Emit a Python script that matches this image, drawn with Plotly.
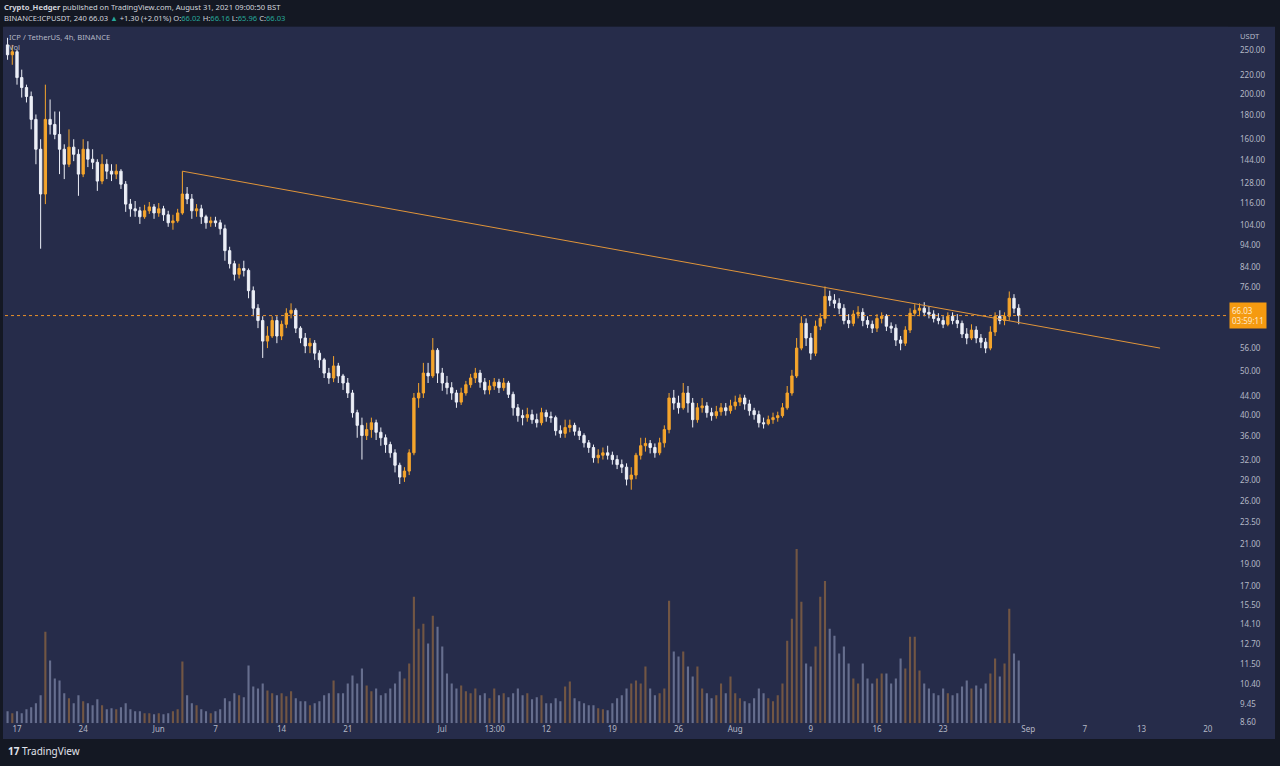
import math

import pandas as pd
import plotly.graph_objects as go

opens = [
    256.2, 243.8, 247.5, 217.5, 206.9, 197.8, 176.4, 151.9, 121.4, 176.4,
    172.0, 163.6, 151.9, 140.9, 153.5, 148.1, 134.1, 151.9, 144.5, 142.3,
    129.5, 140.9, 136.1, 134.1, 136.1, 127.5, 115.4, 112.7, 111.6, 108.3,
    111.6, 113.8, 110.4, 112.7, 109.4, 105.1, 106.1, 110.4, 121.4, 118.4,
    111.6, 112.7, 108.3, 105.1, 106.1, 105.1, 102.0, 91.4, 85.6, 81.2,
    83.6, 82.8, 74.8, 68.5, 64.4, 58.1, 59.6, 64.4, 59.6, 63.2,
    66.8, 67.8, 62.0, 59.0, 56.7, 57.5, 54.7, 52.9, 49.5, 48.3,
    51.3, 48.8, 47.1, 44.8, 40.6, 38.1, 36.2, 37.3, 38.6, 36.8,
    35.8, 34.6, 33.2, 31.2, 29.4, 30.3, 33.2, 43.7, 44.8, 49.5,
    48.8, 55.5, 49.5, 47.1, 46.0, 44.8, 42.8, 44.8, 46.7, 48.3,
    49.5, 47.3, 45.5, 46.4, 47.3, 46.0, 47.1, 44.5, 41.6, 40.0,
    39.6, 40.2, 39.2, 38.6, 40.6, 39.8, 39.6, 37.1, 36.6, 37.7,
    38.1, 37.0, 36.2, 34.9, 34.1, 32.4, 32.8, 33.2, 32.8, 32.1,
    31.3, 30.9, 29.1, 29.7, 32.8, 34.4, 34.8, 34.1, 33.2, 34.9,
    37.3, 43.7, 42.6, 41.6, 44.8, 42.6, 39.2, 41.6, 42.0, 40.6,
    40.0, 40.8, 41.6, 41.0, 42.0, 42.8, 43.7, 42.4, 41.0, 40.2,
    38.6, 38.4, 39.2, 39.6, 40.0, 41.6, 44.8, 48.8, 56.1, 63.5,
    59.0, 54.7, 62.6, 65.1, 72.7, 71.3, 70.2, 68.5, 64.4, 63.5,
    66.5, 67.1, 64.4, 63.2, 62.0, 65.1, 65.8, 62.6, 62.0, 58.4,
    57.5, 61.4, 66.8, 67.8, 68.5, 67.1, 66.5, 65.1, 64.4, 63.2,
    65.8, 64.4, 63.5, 60.2, 59.0, 61.4, 59.0, 57.8, 56.1, 60.8,
    65.8, 64.4, 65.8, 72.0, 68.5,
]
highs = [
    265.4, 256.2, 250.0, 226.3, 209.9, 202.8, 180.8, 159.7, 209.9, 194.9,
    183.5, 183.5, 155.7, 167.8, 159.7, 151.9, 159.7, 158.1, 151.9, 144.5,
    148.1, 144.5, 140.9, 140.9, 137.5, 129.5, 118.4, 117.2, 113.8, 115.0,
    116.6, 115.4, 116.0, 114.4, 111.6, 109.4, 112.7, 136.1, 125.7, 121.4,
    115.4, 115.0, 109.4, 108.3, 108.3, 106.7, 104.1, 93.2, 86.9, 85.6,
    86.9, 83.6, 76.4, 69.9, 65.8, 62.6, 65.8, 65.8, 64.4, 68.5,
    70.2, 68.5, 62.6, 60.5, 59.0, 58.4, 55.5, 53.4, 50.8, 53.9,
    52.1, 49.3, 48.3, 45.5, 41.2, 39.6, 38.6, 39.6, 39.2, 37.7,
    36.4, 35.1, 33.8, 31.6, 30.9, 33.8, 44.8, 47.1, 52.1, 52.1,
    59.0, 56.1, 50.8, 48.8, 47.3, 45.5, 46.0, 47.6, 49.3, 50.8,
    50.3, 48.3, 47.8, 48.3, 48.1, 48.3, 47.6, 45.1, 42.4, 41.2,
    41.6, 41.2, 40.4, 41.6, 41.2, 40.8, 40.0, 38.1, 39.2, 39.2,
    38.6, 37.7, 36.6, 35.4, 34.6, 33.8, 34.1, 34.4, 33.4, 32.8,
    32.1, 31.5, 30.9, 33.2, 35.8, 35.8, 35.4, 34.8, 35.8, 38.1,
    44.8, 45.5, 44.2, 47.1, 46.4, 43.7, 42.6, 43.7, 42.8, 41.6,
    42.0, 42.6, 42.6, 43.3, 44.2, 44.5, 44.4, 43.3, 41.6, 41.0,
    39.6, 40.0, 40.6, 40.8, 42.6, 46.4, 50.3, 59.0, 65.8, 65.1,
    60.5, 64.4, 66.8, 76.4, 74.8, 73.5, 72.0, 69.9, 66.5, 67.8,
    69.2, 68.5, 65.8, 64.4, 66.5, 67.1, 66.5, 63.8, 63.2, 59.6,
    62.6, 68.5, 69.9, 70.2, 70.6, 69.2, 67.8, 66.8, 65.8, 67.1,
    67.1, 66.5, 64.4, 62.0, 63.2, 62.6, 60.2, 59.0, 62.6, 67.1,
    67.8, 67.1, 74.5, 73.5, 69.9,
]
lows = [
    237.8, 231.9, 209.9, 196.8, 192.0, 167.8, 140.9, 92.3, 115.4, 163.6,
    159.7, 134.1, 130.8, 138.9, 143.1, 120.3, 132.1, 138.9, 137.5, 123.3,
    127.5, 130.8, 129.5, 130.8, 124.5, 111.0, 108.3, 108.3, 104.5, 107.2,
    109.9, 107.2, 108.3, 106.1, 103.0, 101.5, 105.1, 109.4, 115.4, 107.2,
    108.3, 104.5, 102.0, 103.0, 103.0, 99.0, 86.9, 83.6, 78.7, 79.5,
    80.3, 72.0, 65.8, 62.0, 53.4, 56.1, 59.0, 57.5, 58.4, 62.0,
    65.1, 60.5, 57.5, 54.7, 54.7, 52.9, 50.8, 48.3, 46.9, 47.3,
    47.1, 45.5, 43.7, 39.6, 35.8, 32.1, 35.4, 35.8, 35.4, 34.4,
    33.2, 32.4, 30.1, 28.4, 28.7, 29.7, 32.8, 41.6, 43.7, 47.1,
    48.3, 47.1, 45.3, 44.5, 43.3, 41.6, 42.2, 44.2, 46.0, 47.1,
    46.0, 44.5, 44.5, 45.5, 44.8, 45.3, 43.7, 40.0, 38.8, 38.1,
    38.8, 38.4, 37.7, 38.1, 38.8, 38.6, 36.2, 35.8, 35.8, 36.8,
    36.2, 35.4, 34.1, 33.2, 31.6, 31.5, 32.1, 32.1, 31.3, 30.6,
    30.0, 28.2, 27.6, 29.1, 32.1, 33.4, 33.1, 32.4, 32.8, 34.1,
    36.6, 41.2, 40.4, 41.2, 40.6, 37.7, 38.6, 40.6, 39.6, 39.0,
    39.4, 40.0, 40.0, 40.4, 41.2, 42.0, 41.2, 40.0, 39.2, 37.7,
    37.5, 38.1, 38.4, 38.8, 39.6, 41.2, 44.2, 48.3, 55.5, 56.7,
    52.9, 53.9, 61.4, 63.5, 69.2, 68.5, 66.5, 63.2, 62.0, 62.6,
    65.1, 62.6, 62.0, 60.5, 60.8, 63.5, 61.1, 60.5, 56.7, 55.5,
    56.7, 60.5, 65.8, 65.8, 65.8, 65.1, 63.8, 63.2, 62.0, 62.6,
    63.2, 62.0, 59.0, 57.2, 58.4, 57.5, 56.1, 54.7, 55.5, 59.6,
    63.2, 62.9, 64.4, 66.8, 63.2,
]
closes = [
    243.8, 247.5, 217.5, 206.9, 197.8, 176.4, 151.9, 121.4, 176.4, 172.0,
    163.6, 151.9, 140.9, 153.5, 148.1, 134.1, 151.9, 144.5, 142.3, 129.5,
    140.9, 136.1, 134.1, 136.1, 127.5, 115.4, 112.7, 111.6, 108.3, 111.6,
    113.8, 110.4, 112.7, 109.4, 105.1, 106.1, 110.4, 121.4, 118.4, 111.6,
    112.7, 108.3, 105.1, 106.1, 105.1, 102.0, 91.4, 85.6, 81.2, 83.6,
    82.8, 74.8, 68.5, 64.4, 58.1, 59.6, 64.4, 59.6, 63.2, 66.8,
    67.8, 62.0, 59.0, 56.7, 57.5, 54.7, 52.9, 49.5, 48.3, 51.3,
    48.8, 47.1, 44.8, 40.6, 38.1, 36.2, 37.3, 38.6, 36.8, 35.8,
    34.6, 33.2, 31.2, 29.4, 30.3, 33.2, 43.7, 44.8, 49.5, 48.8,
    55.5, 49.5, 47.1, 46.0, 44.8, 42.8, 44.8, 46.7, 48.3, 49.5,
    47.3, 45.5, 46.4, 47.3, 46.0, 47.1, 44.5, 41.6, 40.0, 39.6,
    40.2, 39.2, 38.6, 40.6, 39.8, 39.6, 37.1, 36.6, 37.7, 38.1,
    37.0, 36.2, 34.9, 34.1, 32.4, 32.8, 33.2, 32.8, 32.1, 31.3,
    30.9, 29.1, 29.7, 32.8, 34.4, 34.8, 34.1, 33.2, 34.9, 37.3,
    43.7, 42.6, 41.6, 44.8, 42.6, 39.2, 41.6, 42.0, 40.6, 40.0,
    40.8, 41.6, 41.0, 42.0, 42.8, 43.7, 42.4, 41.0, 40.2, 38.6,
    38.4, 39.2, 39.6, 40.0, 41.6, 44.8, 48.8, 56.1, 63.5, 59.0,
    54.7, 62.6, 65.1, 72.7, 71.3, 70.2, 68.5, 64.4, 63.5, 66.5,
    67.1, 64.4, 63.2, 62.0, 65.1, 65.8, 62.6, 62.0, 58.4, 57.5,
    61.4, 66.8, 67.8, 68.5, 67.1, 66.5, 65.1, 64.4, 63.2, 65.8,
    64.4, 63.5, 60.2, 59.0, 61.4, 59.0, 57.8, 56.1, 60.8, 65.8,
    64.4, 65.8, 72.0, 68.5, 66.03,
]
# relative volume per candle (no scale is shown on the chart)
volumes = [
    12, 10, 12, 10, 14, 16, 20, 28, 92, 63,
    45, 43, 30, 25, 20, 28, 22, 20, 18, 24,
    18, 14, 15, 14, 16, 20, 14, 12, 12, 10,
    10, 9, 10, 9, 10, 12, 14, 62, 28, 20,
    18, 14, 12, 10, 12, 14, 25, 22, 30, 28,
    26, 58, 37, 35, 40, 33, 30, 28, 30, 27,
    32, 25, 22, 22, 18, 20, 22, 28, 30, 43,
    30, 30, 40, 48, 40, 55, 38, 32, 35, 28,
    30, 35, 40, 52, 45, 60, 127, 95, 100, 80,
    108, 97, 77, 50, 40, 35, 38, 32, 30, 35,
    28, 30, 25, 35, 28, 30, 26, 30, 35, 28,
    30, 24, 26, 28, 20, 20, 25, 22, 37, 42,
    25, 22, 20, 18, 18, 15, 14, 13, 20, 25,
    28, 35, 40, 43, 40, 57, 35, 28, 30, 35,
    123, 72, 67, 72, 57, 47, 57, 35, 30, 25,
    28, 40, 30, 47, 30, 25, 22, 20, 25, 35,
    30, 25, 22, 28, 40, 83, 105, 175, 122, 60,
    57, 77, 127, 143, 95, 88, 70, 77, 60, 45,
    40, 60, 45, 40, 45, 50, 50, 40, 45, 65,
    55, 87, 87, 53, 40, 35, 30, 28, 35, 30,
    28, 30, 37, 43, 35, 38, 35, 40, 50, 65,
    47, 60, 115, 70, 63,
]
candle_times = pd.date_range('2021-05-16 00:00', periods=len(closes), freq='12h')

# trend line drawn on the chart (from the Jun 3 high through the Aug 10 high)
trend_times = ['2021-06-03 12:00', '2021-09-14 23:00']
trend_prices = [136.1, 56.1]

x_ticks = ['2021-05-17', '2021-05-24', '2021-06-01', '2021-06-07', '2021-06-14',
           '2021-06-21', '2021-07-01', '2021-07-06 13:00', '2021-07-12', '2021-07-19',
           '2021-07-26', '2021-08-01', '2021-08-09', '2021-08-16', '2021-08-23',
           '2021-09-01', '2021-09-07', '2021-09-13', '2021-09-20']
x_labels = ['17', '24', 'Jun', '7', '14', '21', 'Jul', '13:00', '12', '19',
            '26', 'Aug', '9', '16', '23', 'Sep', '7', '13', '20']
price_ticks = [8.6, 9.45, 10.4, 11.5, 12.7, 14.1, 15.5, 17, 19, 21, 23.5, 26, 29, 32,
               36, 40, 44, 50, 56, 68, 76, 84, 94, 104, 116, 128, 144, 160, 180,
               200, 220, 250]

X_RANGE = ['2021-05-15 17:30', '2021-09-22 03:30']
Y_RANGE = [8.57, 280.4]

W, H = 1280, 766
DARK = '#141823'
PANEL = '#262c4a'
UP = '#f5a52c'
DOWN = '#eceff7'
LINE_ORANGE = '#e0953a'
AXIS_TEXT = '#b4b8c6'
TEAL = '#26a69a'
FONT = 'Noto Sans'

last_price = closes[-1]

fig = go.Figure()

vol_colors = ['rgba(190,128,62,0.5)' if c >= o else 'rgba(165,175,210,0.5)'
              for o, c in zip(opens, closes)]
fig.add_trace(go.Bar(x=candle_times, y=volumes, marker_color=vol_colors,
                     marker_line_width=0, width=12 * 3600 * 1000 * 0.45,
                     yaxis='y2', hoverinfo='skip'))

fig.add_trace(go.Candlestick(
    x=candle_times, open=opens, high=highs, low=lows, close=closes,
    increasing=dict(line=dict(color=UP, width=1), fillcolor=UP),
    decreasing=dict(line=dict(color=DOWN, width=1), fillcolor=DOWN),
    whiskerwidth=0))

fig.add_trace(go.Scatter(x=trend_times, y=trend_prices, mode='lines',
                         line=dict(color=LINE_ORANGE, width=1), hoverinfo='skip'))

# dotted last-price line
fig.add_trace(go.Scatter(x=X_RANGE, y=[last_price, last_price], mode='lines',
                         line=dict(color='#e8902a', width=1, dash='dot'),
                         hoverinfo='skip'))

fig.update_layout(
    width=W, height=H,
    margin=dict(l=0, r=0, t=0, b=0),
    paper_bgcolor=DARK, plot_bgcolor=PANEL,
    showlegend=False,
    font=dict(family=FONT, size=8, color=AXIS_TEXT),
    xaxis=dict(domain=[5 / W, 1228 / W], type='date', range=X_RANGE,
               rangeslider=dict(visible=False), showgrid=False, zeroline=False,
               tickmode='array', tickvals=x_ticks, ticktext=x_labels,
               tickfont=dict(size=8, color=AXIS_TEXT), ticks=''),
    yaxis=dict(domain=[(H - 727) / H, (H - 27) / H], type='log', side='right',
               range=[math.log10(Y_RANGE[0]), math.log10(Y_RANGE[1])],
               showgrid=False, zeroline=False, tickmode='array',
               tickvals=price_ticks, ticktext=['%.2f' % v for v in price_ticks],
               tickfont=dict(size=8, color=AXIS_TEXT), ticks='',
               ticklabelstandoff=11),
    yaxis2=dict(overlaying='y', range=[0, 700], visible=False),
)

# navy panel behind plot + axes
fig.add_shape(type='rect', xref='paper', yref='paper', layer='below',
              x0=3 / W, x1=1275 / W, y0=(H - 743) / H, y1=(H - 27) / H,
              fillcolor=PANEL, line_width=0)


def note(text, x, y, size=7.6, color=AXIS_TEXT, **kw):
    fig.add_annotation(text=text, xref='paper', yref='paper', x=x / W, y=1 - y / H,
                       xanchor='left', yanchor='middle', showarrow=False,
                       font=dict(size=size, color=color, family=FONT), **kw)


note('<b>Crypto_Hedger</b> published on TradingView.com, August 31, 2021 09:00:50 BST',
     2, 7, color='#d1d4dc')
note('BINANCE:ICPUSDT, 240 66.03 <span style="color:%s">▲</span> +1.30 (+2.01%%) '
     'O:<span style="color:%s">66.02</span> H:<span style="color:%s">66.16</span> '
     'L:<span style="color:%s">65.96</span> C:<span style="color:%s">66.03</span>'
     % (TEAL, TEAL, TEAL, TEAL, TEAL), 2, 18, color='#d1d4dc')
note('ICP / TetherUS, 4h, BINANCE', 7, 37)
note('Vol', 7, 47)
note('USDT', 1238, 36)
note('<b>17</b> TradingView', 6, 755, size=10, color='#e0e3eb')

fig.add_annotation(text='%.2f<br>03:59:11' % last_price, xref='paper', yref='y',
                   x=1229 / W, y=math.log10(last_price), xanchor='left',
                   yanchor='middle', showarrow=False, align='left',
                   bgcolor='#f59a10', borderpad=2,
                   font=dict(size=8, color='#fde9c9', family=FONT))

fig.write_html('out.html', config={'displayModeBar': False, 'staticPlot': True},
               post_script="document.body.style.margin='0';")
